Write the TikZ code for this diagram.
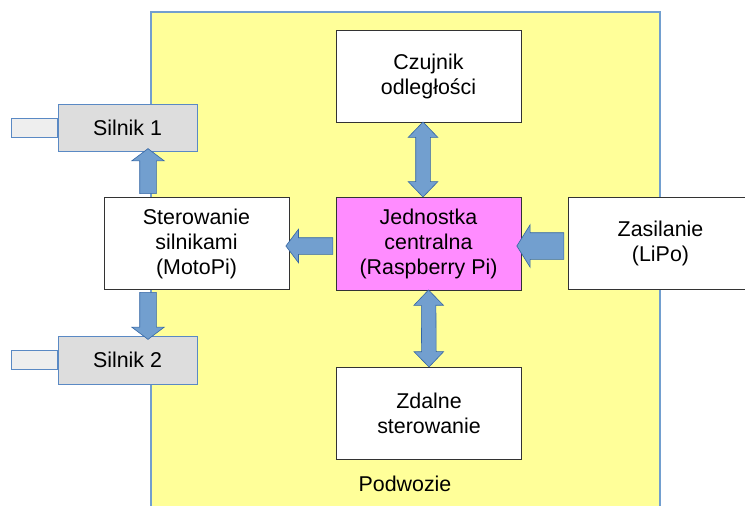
\documentclass[tikz,border=0pt]{standalone}
\usepackage{fontspec}
\setmainfont{Liberation Sans}
\usetikzlibrary{shapes.arrows,positioning}
\definecolor{chassisfill}{HTML}{FFFF99}
\definecolor{chassisline}{HTML}{729FCF}
\definecolor{cpufill}{HTML}{FF8CFF}
\definecolor{boxline}{HTML}{333333}
\definecolor{motorfill}{HTML}{DDDDDD}
\definecolor{shaftfill}{HTML}{EEEEEE}
\definecolor{motorline}{HTML}{5A89C4}
\definecolor{arrowfill}{HTML}{729FCF}
\definecolor{arrowline}{HTML}{3465A4}
\tikzset{
    txt/.style={font=\fontsize{21.4}{25}\selectfont, align=center},
    block/.style={txt, draw=boxline, line width=0.9pt, fill=white, minimum width=185pt, minimum height=92pt, inner sep=0pt},
    motor/.style={txt, draw=motorline, line width=0.9pt, fill=motorfill, minimum width=139pt, minimum height=47pt, inner sep=0pt},
    shaft/.style={draw=motorline, line width=0.9pt, fill=shaftfill, minimum width=46pt, minimum height=19pt, inner sep=0pt},
    fat/.style={single arrow, draw=arrowline, fill=arrowfill, line width=0.6pt, inner sep=0pt, midway, sloped, allow upside down, single arrow head extend=8pt, single arrow tip angle=106},
    dfat/.style={double arrow, draw=arrowline, fill=arrowfill, line width=0.6pt, inner sep=0pt, midway, sloped, allow upside down, double arrow head extend=7.5pt, double arrow tip angle=88}
}
\begin{document}
\begin{tikzpicture}[x=1pt,y=-1pt]
\useasboundingbox (0,0) rectangle (745,506); % page size
\fill[chassisfill] (151,12) rectangle (660,512); % chassis area
\draw[chassisline,line width=1.2pt] (151,512) -- (151,12) -- (660,12) -- (660,512); % chassis border
\node[txt] (chassis) at (405,484) {Podwozie}; % chassis label
\node[block] (czu) at (428.5,76) {Czujnik\\odległości}; % distance sensor
\node[block,fill=cpufill,minimum height=93pt] (cpu) at (428.5,243.5) {Jednostka\\centralna\\(Raspberry Pi)}; % central unit
\node[block] (ster) at (196.5,243.5) {Sterowanie\\silnikami\\(MotoPi)}; % motor driver
\node[block] (zas) at (660.5,243.5) {Zasilanie\\(LiPo)}; % power supply
\node[block] (zda) at (429,413) {Zdalne\\sterowanie}; % remote control
\node[motor] (s1) at (127.5,127.5) {Silnik 1}; % motor 1
\node[shaft,left=0pt of s1] (w1) {}; % shaft 1
\node[motor,minimum height=48pt] (s2) at (127.5,360) {Silnik 2}; % motor 2
\node[shaft,left=0pt of s2] (w2) {}; % shaft 2
\path ([xshift=-5.5pt]czu.south) -- ([xshift=-5.5pt]cpu.north) node[dfat,minimum height=75pt]{\rule{0pt}{14pt}}; % sensor <-> cpu
\path (cpu.south) -- (zda.north) node[dfat,minimum height=77pt]{\rule{0pt}{14pt}}; % cpu <-> remote
\path ([yshift=-2.5pt]cpu.west) -- ([yshift=-2.5pt]ster.east) node[fat,minimum height=47pt,single arrow head extend=8.5pt]{\rule{0pt}{16pt}}; % cpu -> driver
\path ([yshift=-2.5pt]zas.west) -- ([yshift=-2.5pt]cpu.east) node[fat,minimum height=47pt,single arrow tip angle=116]{\rule{0pt}{26pt}}; % power -> cpu
\path ([xshift=-48.5pt]ster.north) -- ([xshift=20.5pt]s1.south) node[fat,minimum height=45pt]{\rule{0pt}{16pt}}; % driver -> motor 1
\path ([xshift=-48.5pt]ster.south) -- ([xshift=20.5pt]s2.north) node[fat,minimum height=47pt]{\rule{0pt}{16pt}}; % driver -> motor 2
\end{tikzpicture}
\end{document}
